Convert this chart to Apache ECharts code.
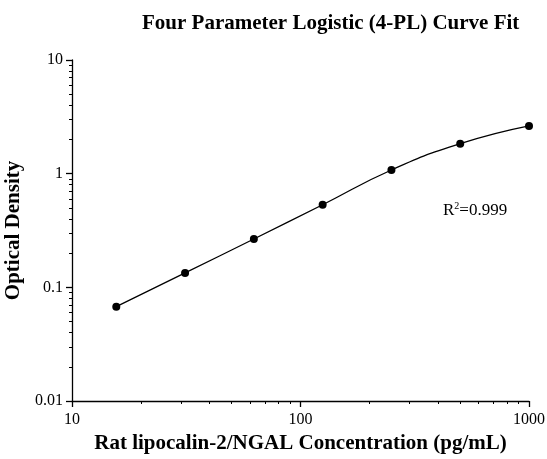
<!DOCTYPE html>
<html>
<head>
<meta charset="utf-8">
<script src="https://cdn.jsdelivr.net/npm/echarts@6/dist/echarts.min.js"></script>
<style>html,body{margin:0;padding:0;background:#fff}#c{width:547px;height:459px}</style>
</head>
<body>
<div id="c"></div>
<script>
const concentrations = [15.625, 31.25, 62.5, 125, 250, 500, 1000];
const opticalDensity = [0.0676, 0.134, 0.266, 0.533, 1.077, 1.835, 2.63];
const xMajorTicks = [10, 100, 1000];
const yMajorTicks = [0.01, 0.1, 1, 10];
const xMinorTicks = [20,30,40,50,60,70,80,90,200,300,400,500,600,700,800,900];
const yMinorTicks = [0.02,0.03,0.04,0.05,0.06,0.07,0.08,0.09,0.2,0.3,0.4,0.5,0.6,0.7,0.8,0.9,2,3,4,5,6,7,8,9];

const serif = '"Liberation Serif", "Times New Roman", serif';
const chart = echarts.init(document.getElementById('c'));
const fmt = v => String(+v.toPrecision(6));
const grid = {left: 72, right: 18, top: 60, bottom: 58, containLabel: false, outerBoundsMode: 'none'};
chart.setOption({
  animation: false,
  title: {
    text: 'Four Parameter Logistic (4-PL) Curve Fit',
    left: 137, top: 8,
    textStyle: {fontFamily: serif, fontWeight: 'bold', fontSize: 21, color: '#000'}
  },
  grid: grid,
  xAxis: [{
    type: 'log', logBase: 10, min: 10, max: 1000,
    name: 'Rat lipocalin-2/NGAL Concentration (pg/mL)',
    nameLocation: 'middle', nameGap: 26,
    nameTextStyle: {fontFamily: serif, fontWeight: 'bold', fontSize: 21, color: '#000'},
    axisLine: {onZero: false, lineStyle: {color: '#000', width: 1.3}},
    axisTick: {length: 6, lineStyle: {color: '#000', width: 1.3}, customValues: xMajorTicks},
    axisLabel: {fontFamily: serif, fontSize: 16, color: '#000', margin: 11, customValues: xMajorTicks, formatter: fmt},
    splitLine: {show: false}
  }, {
    type: 'log', logBase: 10, min: 10, max: 1000, position: 'bottom',
    axisLine: {show: false},
    axisTick: {length: 3, lineStyle: {color: '#000', width: 1}, customValues: xMinorTicks},
    axisLabel: {show: false},
    splitLine: {show: false}
  }],
  yAxis: [{
    type: 'log', logBase: 10, min: 0.01, max: 10,
    name: 'Optical Density',
    nameLocation: 'middle', nameGap: 43,
    nameTextStyle: {fontFamily: serif, fontWeight: 'bold', fontSize: 21, color: '#000'},
    axisLine: {onZero: false, lineStyle: {color: '#000', width: 1.3}},
    axisTick: {length: 6, lineStyle: {color: '#000', width: 1.3}, customValues: yMajorTicks},
    axisLabel: {fontFamily: serif, fontSize: 16, color: '#000', margin: 9, customValues: yMajorTicks, formatter: fmt},
    splitLine: {show: false}
  }, {
    type: 'log', logBase: 10, min: 0.01, max: 10, position: 'left',
    axisLine: {show: false},
    axisTick: {length: 3, lineStyle: {color: '#000', width: 1}, customValues: yMinorTicks},
    axisLabel: {show: false},
    splitLine: {show: false}
  }],
  series: [{
    type: 'line',
    xAxisIndex: 0, yAxisIndex: 0,
    data: concentrations.map((x, i) => [x, opticalDensity[i]]),
    smooth: true,
    symbol: 'circle', symbolSize: 8,
    itemStyle: {color: '#000'},
    lineStyle: {color: '#000', width: 1.3}
  }],
  graphic: [{
    type: 'text', left: 443, top: 201,
    style: {
      text: '{n|R}{s|2}{n|=0.999}',
      rich: {
        n: {fontFamily: serif, fontSize: 17, fill: '#000'},
        s: {fontFamily: serif, fontSize: 10, fill: '#000', verticalAlign: 'top', padding: [0,0,10,0]}
      }
    }
  }]
});
</script>
</body>
</html>
